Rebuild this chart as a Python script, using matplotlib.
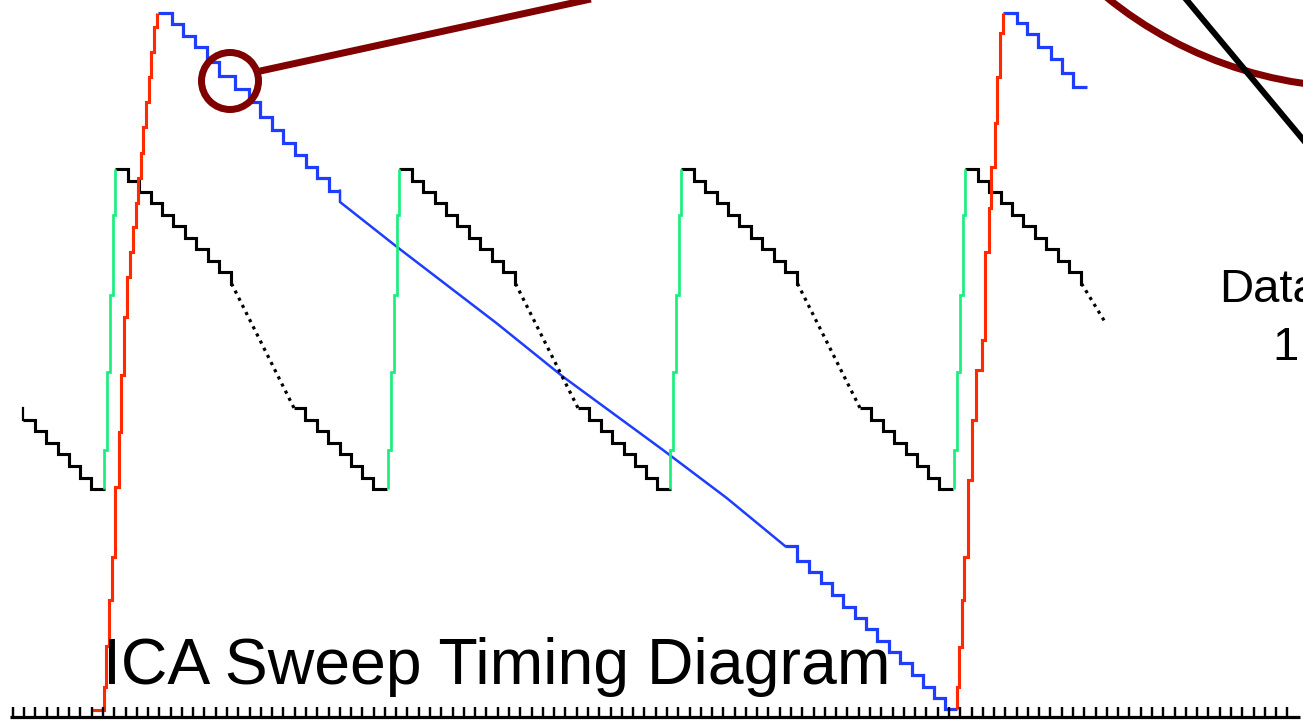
"""ICA sweep timing diagram.

Fast sweep: black falling staircase with a green rising edge.
Slow sweep: blue falling staircase with a red rising edge.
All coordinates are picture pixels (x to the right, y downwards).
"""
from __future__ import annotations

import matplotlib

matplotlib.use("Agg")
import matplotlib.pyplot as plt
import numpy as np
from matplotlib.patches import Circle

W, H, DPI = 1303, 723, 100

# fast sweep, one cycle; x values are offsets from the start of the green edge
FAST_CYCLE_STARTS = [104, 388, 670, 954]
FAST_TOP_EDGES = [11, 24, 35, 46.5, 58, 69, 80.5, 92, 103.5, 115, 126.5, 127.5]
FAST_TOP_LEVELS = [168.5, 180.5, 191.5, 203, 214.5, 226, 237.5, 249, 260.5, 272, 283.5]
FAST_DOT_X = [127.5, 190]
FAST_DOT_Y = [283.5, 408]
FAST_LOW_EDGES = [190, 201, 213, 224, 235.5, 247, 258, 269, 283]
FAST_LOW_LEVELS = [408, 419.5, 431, 442.5, 454, 465.5, 477.5, 488.5]
FAST_RISE_EDGES = [168.5, 215, 295, 372, 450, 488.5]
FAST_RISE_X = [11.2, 8.5, 5.5, 2.8, 0]
FAST_PREV_START = -178          # earlier cycle, only its lower staircase shows
FAST_LAST_DOT_END = (1105, 322)  # last cycle is cut off here

# slow sweep
SLOW_TOP_EDGES = [158.3, 172.3, 183.3, 195, 206.7, 219.3, 235, 249.3, 260, 271.7,
                  283.3, 295, 306, 316.7, 329.3, 340]
SLOW_TOP_LEVELS = [12.7, 24, 36, 46.7, 61.7, 76, 89.3, 102, 116.7, 130, 143.3,
                   155, 166.7, 178.3, 190.7]
SLOW_FINE_X = [340, 340, 396.7, 496.7, 563, 663, 726.7, 785]
SLOW_FINE_Y = [190.7, 202, 246.7, 323.3, 376.7, 450, 498, 546]
SLOW_LOW_EDGES = [785, 797.3, 809.3, 820.7, 831.7, 842.7, 855, 866, 877.3, 889.3,
                  900, 911.7, 923.3, 934, 945, 956.7]
SLOW_LOW_LEVELS = [546, 560.7, 571.7, 582.7, 595, 606.7, 618.3, 629.3, 640.7,
                   651.7, 663.3, 675, 686.7, 698.3, 709.3]
SLOW_NEXT_EDGES = [1003.3, 1016.7, 1026.7, 1038.3, 1050.7, 1062.3, 1073.3, 1086.7]
SLOW_NEXT_LEVELS = [12.7, 23.3, 34.3, 46.7, 59.3, 72.7, 87.3]

# red rising edges: y edges top->bottom, x of each vertical piece
RISE1_EDGES = [13, 27, 52, 77, 102, 127, 153, 178, 203, 227, 252, 277, 317, 375,
               432, 487, 557, 600, 646, 687, 710]
RISE1_X = [157.3, 154, 151.3, 148.7, 146, 143.3, 140.7, 138, 135.5, 133, 130, 127,
           124, 121, 119, 115.3, 112.3, 109, 106, 104]
RISE1_FOOT_X = [93, 104]
RISE2_EDGES = [13, 33, 77, 123, 167, 208, 252, 340, 370, 420, 480, 557, 600, 647,
               687, 709]
RISE2_X = [1003, 1000, 997.3, 994.7, 991.3, 988.7, 985.3, 982, 976, 972, 968.3,
           964, 961.7, 959.3, 956.7]

BLACK = "#000000"
GREEN = "#19ef7c"
BLUE = "#1f3dff"
RED = "#ff2a00"
MAROON = "#800000"
PT = 72 / DPI  # points per pixel


def _shift(values: list[float], dx: float) -> np.ndarray:
    return np.asarray(values, dtype=float) + dx


def draw_fast_cycle(ax, x0: float, last: bool = False) -> None:
    """Green rising edge, black upper staircase, dotted middle, lower staircase."""
    ax.stairs(_shift(FAST_RISE_X, x0), FAST_RISE_EDGES, orientation="horizontal",
              baseline=None, color=GREEN, linewidth=2.7 * PT, zorder=3)
    ax.stairs(FAST_TOP_LEVELS, _shift(FAST_TOP_EDGES, x0), baseline=None,
              color=BLACK, linewidth=3.1 * PT, zorder=2)
    if last:
        ax.plot([FAST_DOT_X[0] + x0, FAST_LAST_DOT_END[0]],
                [FAST_DOT_Y[0], FAST_LAST_DOT_END[1]],
                color=BLACK, linewidth=3.2 * PT, linestyle=(0, (1, 1.5)), zorder=2)
        return
    ax.plot(_shift(FAST_DOT_X, x0), FAST_DOT_Y, color=BLACK, linewidth=3.2 * PT,
            linestyle=(0, (1, 1.5)), zorder=2)
    ax.stairs(FAST_LOW_LEVELS, _shift(FAST_LOW_EDGES, x0), baseline=None,
              color=BLACK, linewidth=3.1 * PT, zorder=2)


fig = plt.figure(figsize=(W / DPI, H / DPI), dpi=DPI)
ax = fig.add_axes([0, 0, 1, 1])
ax.set_xlim(0, W)
ax.set_ylim(H, 0)
ax.axis("off")

# fast sweep
x_prev = FAST_PREV_START
ax.stairs(FAST_LOW_LEVELS[1:], _shift(FAST_LOW_EDGES[1:], x_prev), baseline=None,
          color=BLACK, linewidth=3.1 * PT, zorder=2)
ax.plot([FAST_LOW_EDGES[1] + x_prev] * 2, FAST_LOW_LEVELS[:2], color=BLACK,
        linewidth=2.2 * PT, zorder=2)
for i, x0 in enumerate(FAST_CYCLE_STARTS):
    draw_fast_cycle(ax, x0, last=(i == len(FAST_CYCLE_STARTS) - 1))

# slow sweep
slow_kw = dict(baseline=None, color=BLUE, linewidth=3.2 * PT, zorder=1)
ax.stairs(SLOW_TOP_LEVELS, SLOW_TOP_EDGES, **slow_kw)
ax.plot(SLOW_FINE_X, SLOW_FINE_Y, color=BLUE, linewidth=2.5 * PT, zorder=1)
ax.stairs(SLOW_LOW_LEVELS, SLOW_LOW_EDGES, **slow_kw)
ax.stairs(SLOW_NEXT_LEVELS, SLOW_NEXT_EDGES, **slow_kw)

red_kw = dict(orientation="horizontal", baseline=None, color=RED,
              linewidth=3.1 * PT, zorder=4)
ax.stairs(RISE1_X, RISE1_EDGES, **red_kw)
ax.plot(RISE1_FOOT_X, [RISE1_EDGES[-1]] * 2, color=RED, linewidth=3.1 * PT, zorder=4)
ax.stairs(RISE2_X, RISE2_EDGES, **red_kw)

# time axis with sample clock ticks
tick_x = 12.7 + 11.28 * np.arange(114)
ax.plot([10, 1300], [717, 717], color=BLACK, linewidth=3.2 * PT,
        solid_capstyle="butt", zorder=5)
ax.vlines(tick_x, 707, 717, color=BLACK, linewidth=2.4 * PT, zorder=5)

# call-out: small circle, leader line, big magnifier arc and a crossing line
ax.add_patch(Circle((230, 81), 28.5, fill=False, edgecolor=MAROON,
                    linewidth=7 * PT, zorder=6))
ax.plot([258, 600], [71.5, -3], color=MAROON, linewidth=7 * PT,
        solid_capstyle="butt", zorder=6)
ax.add_patch(Circle((1360.6, -315.3), 402.8, fill=False, edgecolor=MAROON,
                    linewidth=7 * PT, zorder=6))
ax.plot([1180, 1320], [-8, 160], color=BLACK, linewidth=6 * PT, zorder=7)

ax.text(103, 684, "ICA Sweep Timing Diagram", fontsize=46.4, family="Liberation Sans",
        ha="left", va="baseline", color=BLACK, zorder=8)
ax.text(1219, 301.7, "Data", fontsize=34, family="Liberation Sans",
        ha="left", va="baseline", color=BLACK, zorder=8)
ax.text(1272, 360, "1", fontsize=34, family="Liberation Sans",
        ha="left", va="baseline", color=BLACK, zorder=8)

fig.savefig("out.png", dpi=DPI)
